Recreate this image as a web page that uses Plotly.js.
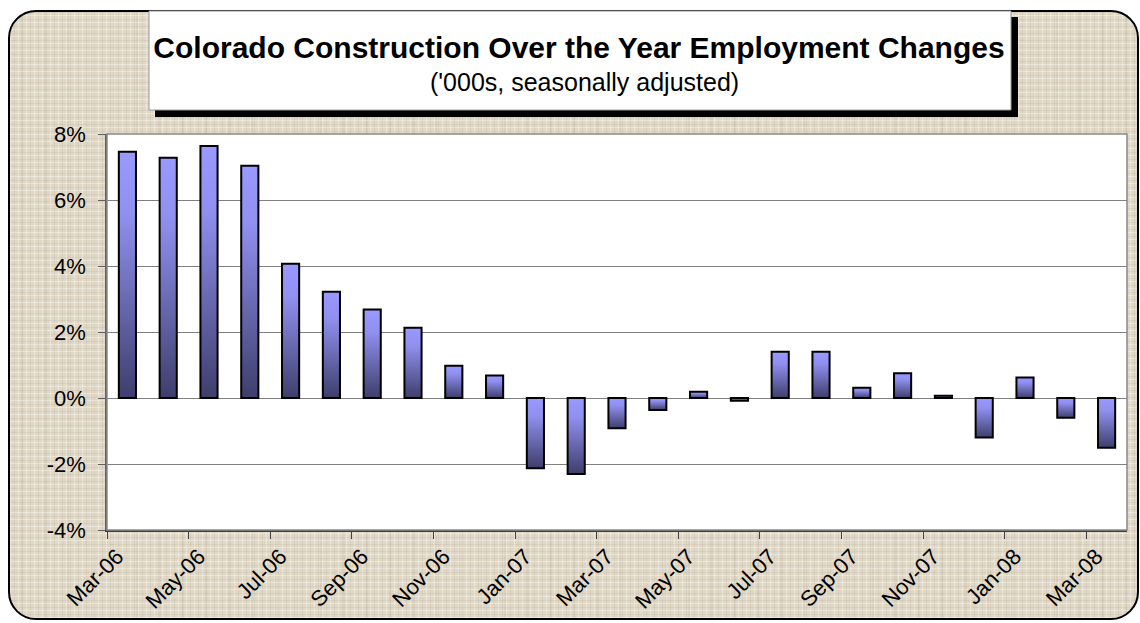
<!DOCTYPE html>
<html>
<head>
<meta charset="utf-8">
<script src="https://cdn.plot.ly/plotly-3.0.1.min.js"></script>
<style>
  html, body { margin:0; padding:0; background:#ffffff; width:1140px; height:623px; overflow:hidden; }
  #frame {
    position:absolute; left:8px; top:10px; width:1131px; height:610px; box-sizing:border-box;
    border:2px solid #000; border-radius:28px;
    background:
      repeating-linear-gradient(0deg, rgba(255,255,255,0.35) 0 1px, transparent 1px 3px, rgba(140,125,100,0.10) 3px 4px, transparent 4px 7px),
      repeating-linear-gradient(90deg, rgba(255,255,255,0.35) 0 1px, transparent 1px 4px, rgba(140,125,100,0.10) 4px 5px, transparent 5px 8px),
      repeating-linear-gradient(90deg, transparent 0 11px, rgba(150,135,110,0.10) 11px 13px, transparent 13px 23px),
      #E0D7C5;
  }
  #chart { position:absolute; left:0; top:0; width:1140px; height:623px; }
</style>
</head>
<body>
<div id="frame"></div>
<div id="chart"></div>
<script>
// ---- data ----
const months = ['Mar-06','Apr-06','May-06','Jun-06','Jul-06','Aug-06','Sep-06','Oct-06','Nov-06','Dec-06',
                'Jan-07','Feb-07','Mar-07','Apr-07','May-07','Jun-07','Jul-07','Aug-07','Sep-07','Oct-07',
                'Nov-07','Dec-07','Jan-08','Feb-08','Mar-08'];
const changePct = [7.46, 7.28, 7.64, 7.04, 4.07, 3.22, 2.68, 2.13, 0.98, 0.68,
                   -2.13, -2.30, -0.92, -0.36, 0.19, -0.08, 1.40, 1.40, 0.31, 0.75,
                   0.07, -1.20, 0.62, -0.60, -1.51];
const yTickVals = [-4, -2, 0, 2, 4, 6, 8];
const yTickText = ['-4%', '-2%', '0%', '2%', '4%', '6%', '8%'];
const titleText = 'Colorado Construction Over the Year Employment Changes';
const subtitleText = "('000s, seasonally adjusted)";

// ---- layout helpers ----
const W = 1140, H = 623;
const PL = 107, PR = 1127, PT = 134, PB = 530;
const fx = x => (x - PL) / (PR - PL);
const fy = y => (PB - y) / (PB - PT);

const idx = months.map((m, i) => i);
const tickIdx = idx.filter(i => i % 2 === 0);
const tickText = tickIdx.map(i => months[i]);
const LABEL_SHIFT = -0.25;

const FONT = 'Liberation Sans, Arial, sans-serif';

const trace = {
  type: 'bar',
  x: idx,
  y: changePct,
  marker: { color: '#8c8cf0', line: { color: '#000000', width: 2 } },
  hovertemplate: '%{customdata}: %{y:.2f}%<extra></extra>',
  customdata: months
};

const layout = {
  width: W, height: H,
  margin: { l: PL, r: W - PR, t: PT, b: H - PB, pad: 0 },
  paper_bgcolor: 'rgba(0,0,0,0)',
  plot_bgcolor: '#ffffff',
  showlegend: false,
  bargap: 0.58,
  title: {
    text: '<b>' + titleText + '</b>',
    font: { family: FONT, size: 30, color: '#000000' },
    xref: 'paper', x: fx(579), xanchor: 'center',
    yref: 'container', y: 1 - 47 / H, yanchor: 'middle'
  },
  annotations: [
    { text: subtitleText, xref: 'paper', yref: 'paper', x: fx(584), y: fy(82),
      xanchor: 'center', yanchor: 'middle', showarrow: false,
      font: { family: FONT, size: 25, color: '#000000' } }
  ],
  xaxis: {
    range: [-0.5, months.length - 0.5],
    tickmode: 'array', tickvals: tickIdx.map(i => i + LABEL_SHIFT), ticktext: tickText,
    tickangle: -45,
    ticks: 'outside', ticklen: 3, tickcolor: 'rgba(0,0,0,0)',
    tickfont: { family: FONT, size: 22, color: '#000000' },
    minor: { tickmode: 'linear', tick0: -0.5, dtick: 2, ticks: 'outside', ticklen: 7, tickwidth: 1, tickcolor: '#404040', showgrid: false },
    showgrid: false, zeroline: false,
    showline: true, linecolor: '#404040', linewidth: 2,
    fixedrange: true
  },
  yaxis: {
    range: [-4, 8],
    tickmode: 'array', tickvals: yTickVals, ticktext: yTickText,
    ticks: 'outside', ticklen: 7, tickcolor: '#606060', tickwidth: 1,
    ticklabelstandoff: 8,
    tickfont: { family: FONT, size: 22, color: '#000000' },
    showgrid: true, gridcolor: '#808080', gridwidth: 1,
    zeroline: true, zerolinecolor: '#808080', zerolinewidth: 1,
    showline: true, linecolor: '#606060', linewidth: 1.5,
    fixedrange: true
  },
  shapes: [
    { type: 'rect', xref: 'paper', yref: 'paper', x0: 0, x1: 1, y0: 0, y1: 1,
      line: { color: '#8a8a8a', width: 1.5 }, fillcolor: 'rgba(0,0,0,0)', layer: 'above' },
    { type: 'rect', xref: 'paper', yref: 'paper', x0: fx(155), x1: fx(1018), y0: fy(117), y1: fy(17),
      line: { width: 0 }, fillcolor: '#000000', layer: 'below' },
    { type: 'rect', xref: 'paper', yref: 'paper', x0: fx(149), x1: fx(1011), y0: fy(110), y1: fy(11),
      line: { color: '#9a9a9a', width: 1 }, fillcolor: '#ffffff', layer: 'below' }
  ]
};

Plotly.newPlot('chart', [trace], layout, { displayModeBar: false, responsive: false }).then(gd => {
  const svg = gd.querySelector('svg.main-svg');
  const ns = 'http://www.w3.org/2000/svg';
  let defs = svg.querySelector('defs');
  if (!defs) { defs = document.createElementNS(ns, 'defs'); svg.insertBefore(defs, svg.firstChild); }
  const grad = document.createElementNS(ns, 'linearGradient');
  grad.setAttribute('id', 'barGrad');
  grad.setAttribute('x1', '0'); grad.setAttribute('y1', '0');
  grad.setAttribute('x2', '0'); grad.setAttribute('y2', '1');
  [['0', '#9999FF'], ['0.25', '#9090F0'], ['1', '#3E3E6C']].forEach(([o, c]) => {
    const s = document.createElementNS(ns, 'stop');
    s.setAttribute('offset', o); s.setAttribute('stop-color', c);
    grad.appendChild(s);
  });
  defs.appendChild(grad);
  gd.querySelectorAll('.barlayer .point path').forEach(p => { p.style.fill = 'url(#barGrad)'; });
});
</script>
</body>
</html>
